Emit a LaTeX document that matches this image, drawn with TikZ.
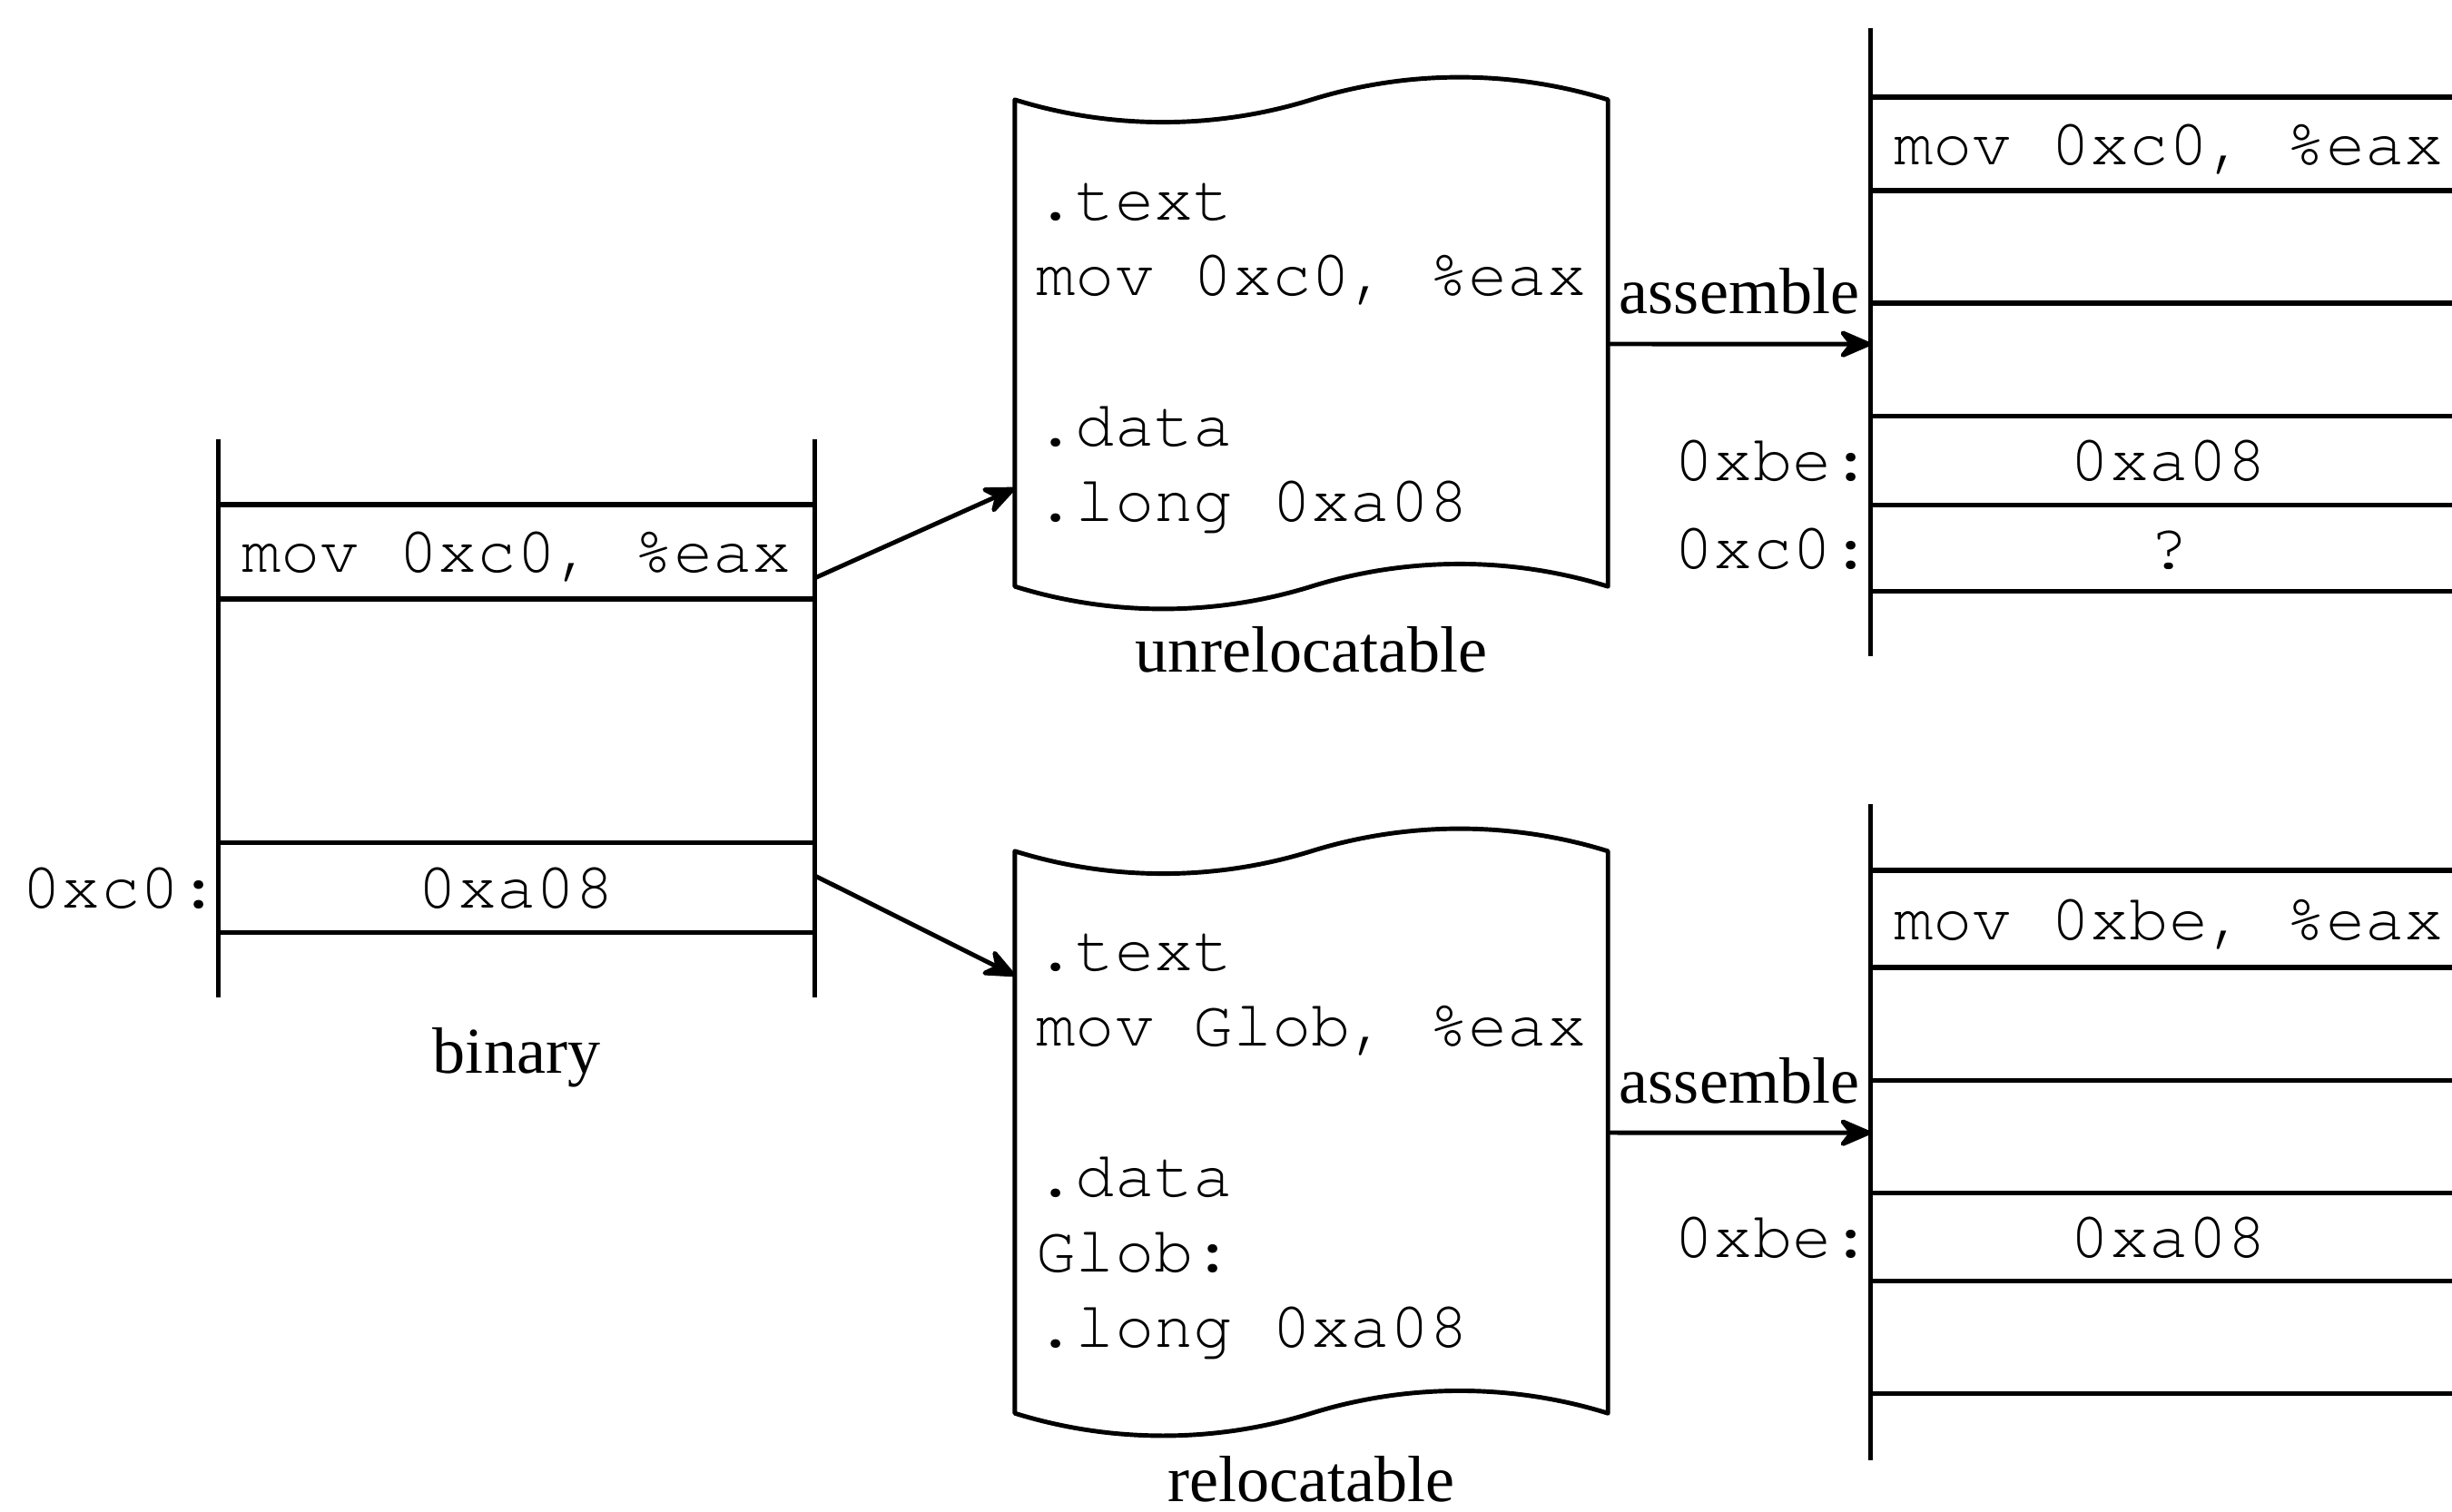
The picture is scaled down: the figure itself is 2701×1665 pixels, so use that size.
\documentclass[tikz,border=0pt]{standalone}
\usepackage{fontspec}
\setmainfont{Liberation Serif}
\newfontfamily\codefont{texgyrecursor-regular.otf}
\usetikzlibrary{arrows.meta,calc}
\begin{document}
\begin{tikzpicture}[x=0.01cm,y=-0.01cm,
  line width=1.5pt,
  code/.style={font=\fontsize{20.5}{23.6}\selectfont\codefont},
  lbl/.style={font=\fontsize{20.5}{24}\selectfont},
  cell/.style={draw, minimum width=6.56cm, inner sep=0pt, outer sep=0pt, code, text height=0.45cm, text depth=0pt},
  addr/.style={code, inner sep=0pt, outer sep=0pt, text height=0.45cm, text depth=0pt, anchor=east},
  arr/.style={line width=1.4pt, -{Stealth[length=0.42cm,width=0.36cm,inset=0.14cm,round]}},
  docbox/.style={code, minimum width=6.53cm, inner xsep=0pt, inner ysep=0pt, outer sep=0pt, align=left},
  docline/.style={line width=1.4pt, line join=round},
  memline/.style={line cap=butt},
]
\useasboundingbox (0,0) rectangle (2701,1665);
\fill[white] (0,0) rectangle (2701,1665);
\clip (0,0) rectangle (2701,1665);

% ---------- binary ----------
\node[cell, minimum height=1.04cm] (b1) at (569,608) {mov 0xc0, \%eax};
\node[cell, minimum height=2.68cm, anchor=north] (b2) at (b1.south) {};
\node[cell, minimum height=0.99cm, anchor=north] (b3) at (b2.south) {0xa08};
\draw[memline] ([yshift=0.72cm]b1.north west) -- ([yshift=-0.72cm]b3.south west);
\draw[memline] ([yshift=0.72cm]b1.north east) -- ([yshift=-0.72cm]b3.south east);
\node[addr] (ba) at (b3.west) {0xc0:};
\node[lbl, anchor=base] (binlbl) at (569,1182) {binary};

% ---------- documents ----------
\node[docbox, minimum height=5.36cm] (unrel) at (1444.5,395)
  {.text\\mov 0xc0, \%eax\\[0.83cm].data\\.long 0xa08\hphantom{xxx}};
\draw[docline] ([yshift=0.17cm]unrel.north west)
  .. controls +(106,33) and +(-106,33) .. ([yshift=0.17cm]unrel.north)
  .. controls +(106,-33) and +(-106,-33) .. ([yshift=0.17cm]unrel.north east)
  -- ([yshift=0.17cm]unrel.south east)
  .. controls +(-106,-33) and +(106,-33) .. ([yshift=0.17cm]unrel.south)
  .. controls +(-106,33) and +(106,33) .. ([yshift=0.17cm]unrel.south west)
  -- cycle;
\node[lbl, anchor=base] (unlbl) at (1444.5,740) {unrelocatable};

\node[docbox, minimum height=6.19cm] (rel) at (1444.5,1263)
  {.text\\mov Glob, \%eax\\[0.83cm].data\\Glob:\\.long 0xa08\hphantom{xxx}};
\draw[docline] ([yshift=0.155cm]rel.north west)
  .. controls +(106,33) and +(-106,33) .. ([yshift=0.155cm]rel.north)
  .. controls +(106,-33) and +(-106,-33) .. ([yshift=0.155cm]rel.north east)
  -- ([yshift=0.155cm]rel.south east)
  .. controls +(-106,-33) and +(106,-33) .. ([yshift=0.155cm]rel.south)
  .. controls +(-106,33) and +(106,33) .. ([yshift=0.155cm]rel.south west)
  -- cycle;
\node[lbl, anchor=base] (rellbl) at (1444.5,1654) {relocatable};

% ---------- top right memory ----------
\node[cell, minimum height=1.03cm] (r1) at (2389,158.5) {mov 0xc0, \%eax};
\node[cell, minimum height=1.24cm, anchor=north] (r2) at (r1.south) {};
\node[cell, minimum height=1.24cm, anchor=north] (r3) at (r2.south) {};
\node[cell, minimum height=0.98cm, anchor=north] (r4) at (r3.south) {0xa08};
\node[cell, minimum height=0.95cm, anchor=north] (r5) at (r4.south) {?};
\draw[memline] ([yshift=0.76cm]r1.north west) -- ([yshift=-0.72cm]r5.south west);
\node[addr] (ra1) at (r4.west) {0xbe:};
\node[addr] (ra2) at (r5.west) {0xc0:};

% ---------- bottom right memory ----------
\node[cell, minimum height=1.07cm] (s1) at (2389,1012.5) {mov 0xbe, \%eax};
\node[cell, minimum height=1.24cm, anchor=north] (s2) at (s1.south) {};
\node[cell, minimum height=1.24cm, anchor=north] (s3) at (s2.south) {};
\node[cell, minimum height=0.97cm, anchor=north] (s4) at (s3.south) {0xa08};
\node[cell, minimum height=1.24cm, anchor=north] (s5) at (s4.south) {};
\draw[memline] ([yshift=0.73cm]s1.north west) -- ([yshift=-0.74cm]s5.south west);
\node[addr] (sa1) at (s4.west) {0xbe:};

% ---------- arrows ----------
\draw[arr] ([yshift=-0.29cm]b1.east) -- ([yshift=-1.43cm]unrel.west);
\draw[arr] ([yshift=0.13cm]b3.east) -- ([yshift=1.88cm]rel.west);
\draw[arr] ([yshift=0.16cm]unrel.east) -- node[lbl, inner sep=0pt, above=0.3cm] (asm1) {assemble} ([yshift=0.17cm]r3.west);
\draw[arr] ([yshift=0.15cm]rel.east) -- node[lbl, inner sep=0pt, above=0.29cm] (asm2) {assemble} ([yshift=0.04cm]s3.west);
\end{tikzpicture}
\end{document}
